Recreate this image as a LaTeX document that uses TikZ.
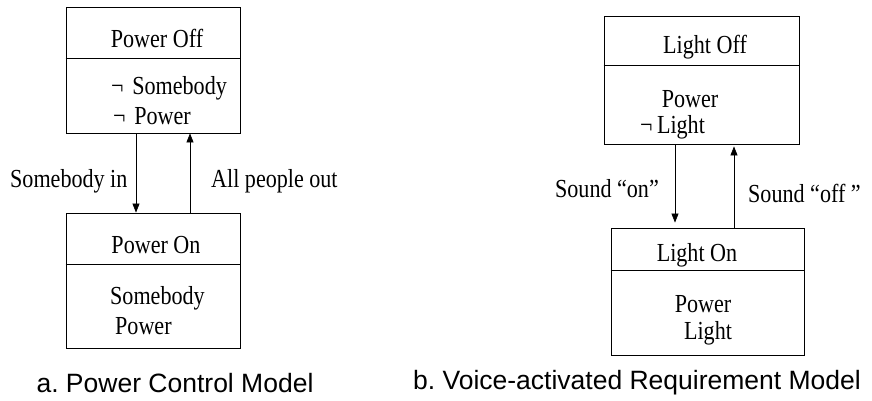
\documentclass[tikz,border=0pt]{standalone}
\usepackage{fontspec}
\setmainfont[FakeStretch=0.85]{Liberation Serif}
\newfontfamily\capfont{Liberation Sans}
\usetikzlibrary{arrows.meta}
\frenchspacing

\tikzset{
  statebox/.style={draw,line width=0.8pt,inner sep=0pt},
  txt/.style={font=\fontsize{26}{28}\selectfont,inner sep=0pt},
  caption/.style={font=\capfont\fontsize{26.5}{28}\selectfont,inner sep=0pt},
  trans/.style={line width=0.7pt,-{Triangle[length=9pt,width=7pt]}}
}

\begin{document}
\begin{tikzpicture}[x=1pt,y=-1pt]
\useasboundingbox (0,0) rectangle (872,400);

% power control model
\node[statebox,minimum width=174pt,minimum height=126pt] (poff) at (153,70) {};
\node[statebox,minimum width=174pt,minimum height=135pt] (pon) at (153,280.5) {};
\draw[line width=0.7pt] (poff.north west) ++(0,52) -- ++(174,0);
\draw[line width=0.7pt] (pon.north west) ++(0,52) -- ++(174,0);

\node[txt] (poffname) at (157,38) {Power Off};
\node[txt,anchor=west] (poffa) at (111,88) {¬\,\,Somebody};
\node[txt,anchor=west] (poffb) at (113,116) {¬\,\,Power};
\node[txt] (ponname) at (156,245) {Power On};
\node[txt,anchor=west] (pona) at (110,298) {Somebody};
\node[txt,anchor=west] (ponb) at (115,326) {Power};

\coordinate (pdown) at (136,0);
\coordinate (pup) at (190,0);
\draw[trans] (poff.south -| pdown) -- (pon.north -| pdown);
\draw[trans] (pon.north -| pup) -- (poff.south -| pup);
\node[txt,anchor=west] (pin) at (10,181) {Somebody in};
\node[txt,anchor=west] (pout) at (211,181) {All people out};

\node[caption] (capa) at (175,383) {a. Power Control Model};

% voice-activated requirement model
\node[statebox,minimum width=195pt,minimum height=128pt] (loff) at (701.5,80) {};
\node[statebox,minimum width=193pt,minimum height=127pt] (lon) at (707.5,291.5) {};
\draw[line width=0.7pt] (loff.north west) ++(0,50) -- ++(195,0);
\draw[line width=0.7pt] (lon.north west) ++(0,43) -- ++(193,0);

\node[txt] (loffname) at (705,47) {Light Off};
\node[txt] (loffa) at (690,99) {Power};
\node[txt,anchor=west] (loffb) at (640,127) {¬\,Light};
\node[txt] (lonname) at (697,255) {Light On};
\node[txt] (lona) at (703,304) {Power};
\node[txt] (lonb) at (708,333) {Light};

\coordinate (ldown) at (675,0);
\coordinate (lup) at (734,0);
\draw[trans,shorten >=5pt] (loff.south -| ldown) -- (lon.north -| ldown);
\draw[trans,shorten >=2pt] (lon.north -| lup) -- (loff.south -| lup);
\node[txt] (lon1) at (607,189) {Sound “on”};
\node[txt,anchor=west] (loff1) at (748,193) {Sound “off ”};

\node[caption] (capb) at (637,383) {b. Voice-activated Requirement Model};

\end{tikzpicture}
\end{document}
